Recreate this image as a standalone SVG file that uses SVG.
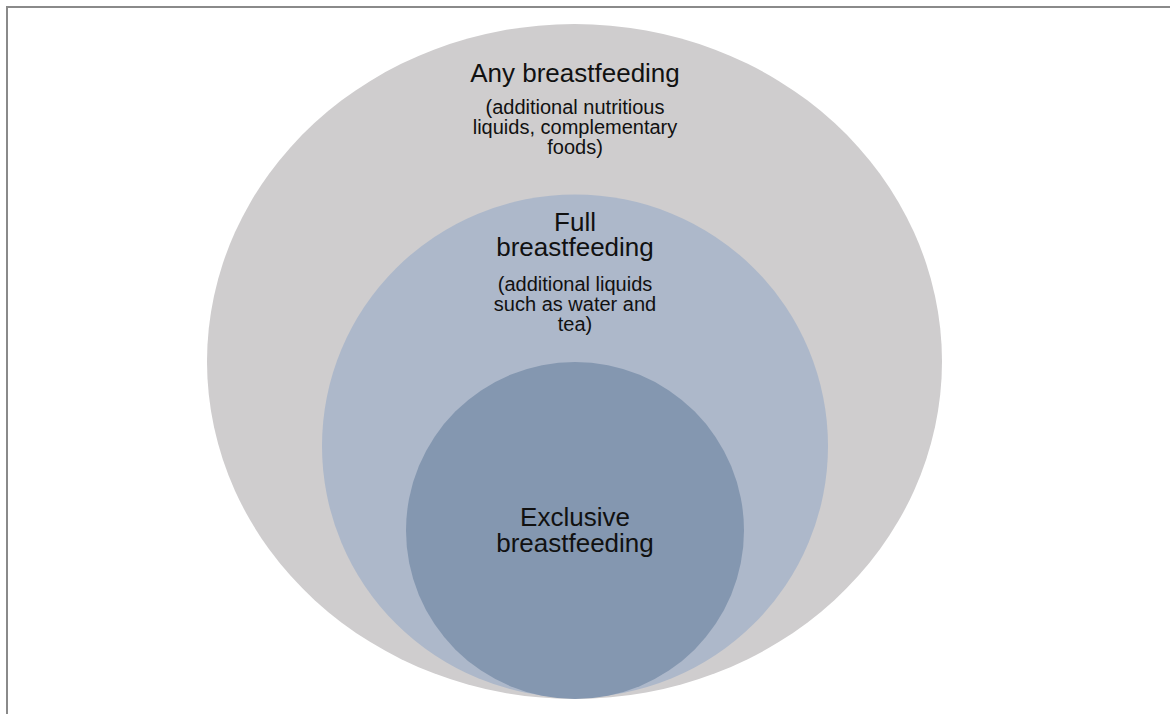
<svg xmlns="http://www.w3.org/2000/svg" width="1170" height="714" viewBox="0 0 1170 714">
  <style>
    .title { font-family: "Liberation Sans", Arial, sans-serif; font-size: 26px; fill: #111; text-anchor: middle; }
    .sub { font-family: "Liberation Sans", Arial, sans-serif; font-size: 20px; fill: #111; text-anchor: middle; }
  </style>
  <rect width="1170" height="714" fill="#ffffff"/>
  <!-- frame: top and left edges -->
  <path d="M7 714 V7 H1170" fill="none" stroke="#8a8a8a" stroke-width="2"/>

  <g id="any-breastfeeding">
    <ellipse cx="574.5" cy="361.5" rx="367.5" ry="337.5" fill="#cfcdce"/>
    <text class="title" x="575" y="82">Any breastfeeding</text>
    <text class="sub" x="575" y="114">(additional nutritious<tspan x="575" dy="20">liquids, complementary</tspan><tspan x="575" dy="20">foods)</tspan></text>
  </g>

  <g id="full-breastfeeding">
    <ellipse cx="575" cy="446" rx="253" ry="251.5" fill="#adb8ca"/>
    <text class="title" x="575" y="231">Full<tspan x="575" dy="25">breastfeeding</tspan></text>
    <text class="sub" x="575" y="291">(additional liquids<tspan x="575" dy="20">such as water and</tspan><tspan x="575" dy="20">tea)</tspan></text>
  </g>

  <g id="exclusive-breastfeeding">
    <ellipse cx="575" cy="530.5" rx="169" ry="168.5" fill="#8497b0"/>
    <text class="title" x="575" y="526">Exclusive<tspan x="575" dy="26">breastfeeding</tspan></text>
  </g>

  <g id="connectors"/>
</svg>
